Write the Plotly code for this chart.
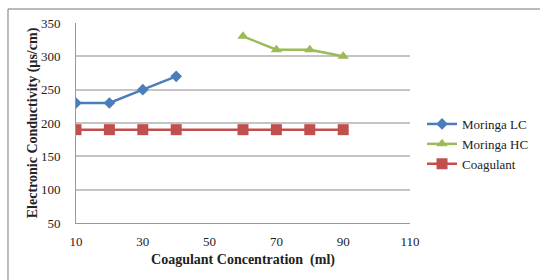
import plotly.graph_objects as go

lc_x = [10, 20, 30, 40]
lc_y = [230, 230, 250, 270]
hc_x = [60, 70, 80, 90]
hc_y = [330, 310, 310, 300]
co_x = [10, 20, 30, 40, 60, 70, 80, 90]
co_y = [190, 190, 190, 190, 190, 190, 190, 190]
x_ticks = [10, 30, 50, 70, 90, 110]
y_ticks = [50, 100, 150, 200, 250, 300, 350]

font = "Liberation Serif, Times New Roman, serif"

fig = go.Figure()
fig.add_trace(go.Scatter(x=lc_x, y=lc_y, name="Moringa LC", mode="lines+markers",
                         line=dict(color="#4a7ebb", width=2.5),
                         marker=dict(symbol="diamond", size=9, color="#4a7ebb")))
fig.add_trace(go.Scatter(x=hc_x, y=hc_y, name="Moringa HC", mode="lines+markers",
                         line=dict(color="#9bbb59", width=2.5),
                         marker=dict(symbol="triangle-up", size=10, color="#9bbb59")))
fig.add_trace(go.Scatter(x=co_x, y=co_y, name="Coagulant", mode="lines+markers",
                         line=dict(color="#c0504d", width=2.5),
                         marker=dict(symbol="square", size=11, color="#c0504d")))

fig.update_layout(
    width=540, height=280,
    margin=dict(l=76, r=130, t=23, b=57, autoexpand=False),
    paper_bgcolor="white", plot_bgcolor="white",
    font=dict(family=font, size=13, color="#222"),
    showlegend=True,
    legend=dict(x=1.036, y=0.395, xanchor="left", yanchor="middle",
                font=dict(family=font, size=13, color="#222"),
                tracegroupgap=0, itemwidth=30, bgcolor="rgba(0,0,0,0)"),
    xaxis=dict(range=[10, 110], tickvals=x_ticks, showgrid=False, zeroline=False,
               showline=True, linecolor="#999", linewidth=1, automargin=False,
               ticks="", ticklabelstandoff=6, tickfont=dict(family=font, size=13),
               title=dict(text="<b>Coagulant Concentration  (ml)</b>", font=dict(family=font, size=14), standoff=6)),
    yaxis=dict(range=[50, 350], tickvals=y_ticks, showgrid=True, gridcolor="#c4c4c4", gridwidth=1.5,
               zeroline=False, showline=True, linecolor="#999", linewidth=1, automargin=False,
               ticks="", ticklabelstandoff=12, tickfont=dict(family=font, size=13),
               title=dict(text="<b>Electronic Conductivity (µs/cm)</b>", font=dict(family=font, size=14), standoff=0)),
)
fig.add_shape(type="rect", xref="paper", yref="paper", x0=-0.2036, x1=1.5, y0=-0.5, y1=1.07,
              line=dict(color="#777", width=1), fillcolor="rgba(0,0,0,0)", layer="above")

fig.write_html("out.html", config={"displayModeBar": False},
               post_script="document.body.style.margin='0';document.body.style.overflow='hidden';")
